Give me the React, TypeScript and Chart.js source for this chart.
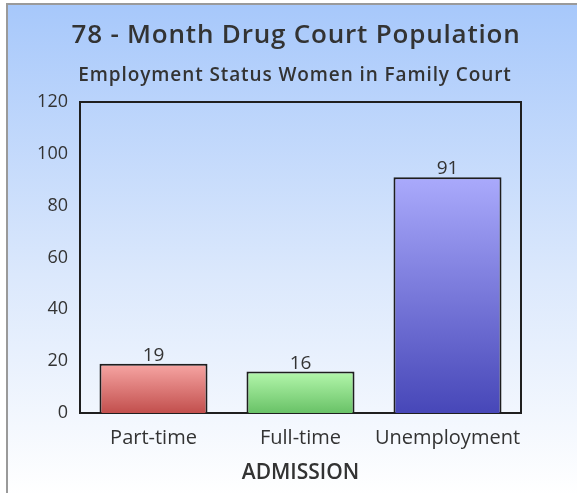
import React, { useEffect, useRef } from "react";
import { Chart, registerables } from "chart.js";

Chart.register(...registerables);

const categories = ["Part-time", "Full-time", "Unemployment"];
const values = [19, 16, 91];
const topColors = ["#f7a6a4", "#b4f7ac", "#aaaafc"];
const bottomColors = ["#c24f4d", "#69c267", "#4747b8"];
const titleText = "78 - Month Drug Court Population";
const subtitleText = "Employment Status Women in Family Court";
const xTitle = "ADMISSION";
const yMax = 120;
const yStep = 20;

const FONT = "'Open Sans', 'DejaVu Sans', sans-serif";

export default function App() {
  const ref = useRef<HTMLCanvasElement>(null);
  useEffect(() => {
    const canvas = ref.current;
    if (!canvas) return;

    const textPlugin = {
      id: "texts",
      afterDraw(chart: any) {
        const ctx = chart.ctx;
        ctx.save();
        ctx.fillStyle = "#333333";
        ctx.textAlign = "center";
        ctx.textBaseline = "alphabetic";
        ctx.font = `600 26px ${FONT}`;
        (ctx as any).letterSpacing = "0.8px";
        ctx.fillText(titleText, 296, 43);
        ctx.font = `600 19px ${FONT}`;
        (ctx as any).letterSpacing = "0.9px";
        ctx.fillText(subtitleText, 295, 81);
        (ctx as any).letterSpacing = "0px";
        ctx.restore();
      },
    };

    const framePlugin = {
      id: "frame",
      beforeDatasetsDraw(chart: any) {
        const { ctx, chartArea } = chart;
        ctx.save();
        ctx.strokeStyle = "#1f1f1f";
        ctx.lineWidth = 2;
        ctx.strokeRect(
          chartArea.left,
          chartArea.top,
          chartArea.right - chartArea.left,
          chartArea.bottom - chartArea.top
        );
        ctx.restore();
      },
    };

    const labelPlugin = {
      id: "valueLabels",
      afterDatasetsDraw(chart: any) {
        const ctx = chart.ctx;
        const meta = chart.getDatasetMeta(0);
        ctx.save();
        ctx.fillStyle = "#333333";
        ctx.font = `19px ${FONT}`;
        ctx.textAlign = "center";
        ctx.textBaseline = "alphabetic";
        meta.data.forEach((el: any, i: number) => {
          ctx.fillText(String(values[i]), el.x, el.y - 3);
        });
        ctx.restore();
      },
    };

    const chart = new Chart(canvas, {
      type: "bar",
      data: {
        labels: categories,
        datasets: [
          {
            data: values,
            backgroundColor: (c: any) => {
              const ch = c.chart;
              const area = ch.chartArea;
              const i = c.dataIndex;
              if (!area || i === undefined) return topColors[i ?? 0];
              const ys = ch.scales.y;
              const top = ys.getPixelForValue(values[i]);
              const bottom = ys.getPixelForValue(0);
              const g = ch.ctx.createLinearGradient(0, top, 0, bottom);
              g.addColorStop(0, topColors[i]);
              g.addColorStop(1, bottomColors[i]);
              return g;
            },
            borderColor: "#1e1e1e",
            borderWidth: 2,
            categoryPercentage: 1,
            barPercentage: 0.735,
          },
        ],
      },
      options: {
        animation: false,
        responsive: false,
        devicePixelRatio: 1,
        layout: { padding: { left: 0, right: 56, top: 102, bottom: 0 } },
        plugins: {
          legend: { display: false },
          title: { display: false },
          tooltip: { enabled: false },
        },
        scales: {
          x: {
            grid: { display: false, drawTicks: false },
            border: { display: false },
            ticks: {
              color: "#333333",
              font: { family: FONT, size: 20 },
              padding: 13,
              maxRotation: 0,
              autoSkip: false,
            },
            title: {
              display: true,
              text: xTitle,
              color: "#333333",
              font: { family: FONT, size: 21, weight: "600" },
              padding: { top: 0, bottom: 7 },
            },
            afterFit: (s: any) => {
              s.height = 80;
            },
          },
          y: {
            min: 0,
            max: yMax,
            grid: { display: false, drawTicks: false },
            border: { display: false },
            ticks: {
              stepSize: yStep,
              color: "#333333",
              font: { family: FONT, size: 18 },
              padding: 12,
            },
            afterFit: (s: any) => {
              s.width = 80;
            },
          },
        },
      },
      plugins: [framePlugin, labelPlugin, textPlugin],
    } as any);
    return () => chart.destroy();
  }, []);

  return (
    <div style={{ position: "fixed", left: 0, top: 0, width: 577, height: 493, background: "#ffffff" }}>
      <div
        style={{
          position: "absolute",
          left: 6,
          top: 3,
          width: 571,
          height: 490,
          borderLeft: "2px solid #9a9a9a",
          borderTop: "2px solid #9a9a9a",
          background: "linear-gradient(to bottom, #a7c8fb 0%, #dbe8fc 55%, #ffffff 100%)",
        }}
      />
      <canvas
        ref={ref}
        width={577}
        height={493}
        style={{ position: "absolute", left: 0, top: 0, width: 577, height: 493 }}
      />
    </div>
  );
}
